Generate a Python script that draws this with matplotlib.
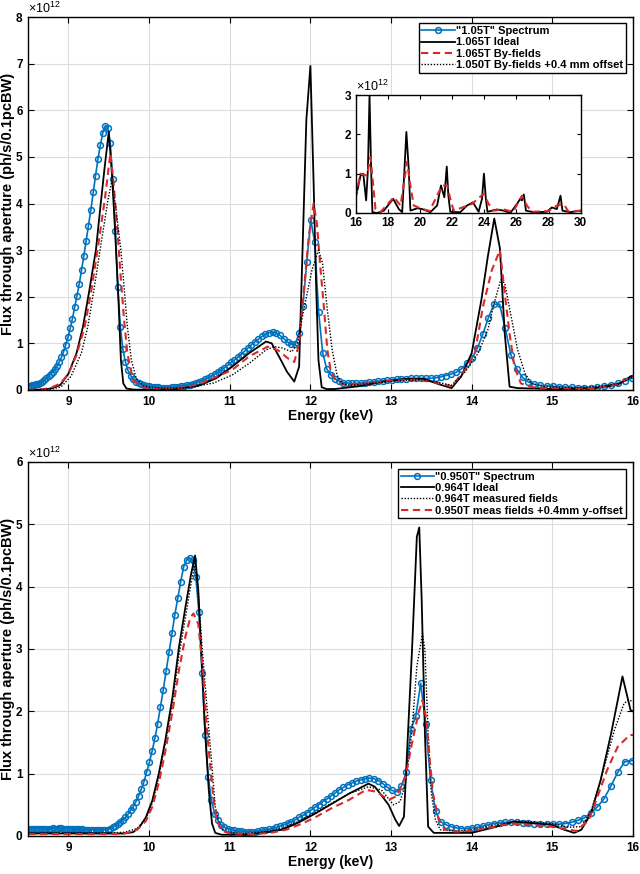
import numpy as np
import matplotlib
matplotlib.use("Agg")
import matplotlib.pyplot as plt

plt.rcParams["font.family"] = ["Liberation Sans", "DejaVu Sans"]
plt.rcParams["font.weight"] = "bold"
plt.rcParams["mathtext.default"] = "regular"

# measured spectra (flux in units of 1e12), scan grid shared by both panels
e_meas = [8.500, 8.525, 8.550, 8.574, 8.599, 8.625, 8.650, 8.676, 8.701, 8.727,
          8.753, 8.779, 8.805, 8.832, 8.858, 8.885, 8.912, 8.939, 8.966, 8.994,
          9.021, 9.049, 9.077, 9.105, 9.134, 9.162, 9.191, 9.219, 9.248, 9.278,
          9.307, 9.336, 9.366, 9.396, 9.426, 9.457, 9.487, 9.518, 9.549, 9.580,
          9.611, 9.643, 9.674, 9.706, 9.738, 9.771, 9.803, 9.836, 9.869, 9.902,
          9.936, 9.969, 10.003, 10.037, 10.072, 10.106, 10.141, 10.176, 10.212, 10.247,
          10.283, 10.319, 10.356, 10.392, 10.429, 10.466, 10.504, 10.541, 10.579, 10.617,
          10.656, 10.694, 10.733, 10.773, 10.812, 10.852, 10.892, 10.933, 10.974, 11.015,
          11.056, 11.098, 11.140, 11.182, 11.225, 11.268, 11.311, 11.355, 11.399, 11.443,
          11.488, 11.533, 11.579, 11.624, 11.670, 11.717, 11.764, 11.811, 11.859, 11.907,
          11.955, 12.004, 12.053, 12.102, 12.153, 12.203, 12.254, 12.305, 12.357, 12.409,
          12.462, 12.515, 12.568, 12.622, 12.676, 12.731, 12.787, 12.842, 12.899, 12.956,
          13.013, 13.071, 13.129, 13.188, 13.247, 13.307, 13.368, 13.429, 13.490, 13.552,
          13.615, 13.679, 13.743, 13.807, 13.872, 13.938, 14.004, 14.071, 14.139, 14.207,
          14.276, 14.346, 14.416, 14.487, 14.559, 14.631, 14.704, 14.778, 14.853, 14.928,
          15.004, 15.081, 15.159, 15.238, 15.317, 15.397, 15.478, 15.560, 15.643, 15.726,
          15.811, 15.897, 15.983, 16.070]

flux_105 = [0.09, 0.09, 0.10, 0.11, 0.12, 0.13, 0.15, 0.18, 0.21, 0.25,
            0.29, 0.34, 0.39, 0.45, 0.52, 0.60, 0.70, 0.82, 0.97, 1.13,
            1.32, 1.53, 1.77, 2.02, 2.28, 2.57, 2.88, 3.20, 3.52, 3.87,
            4.24, 4.60, 4.96, 5.26, 5.52, 5.67, 5.63, 5.30, 4.52, 3.40,
            2.20, 1.36, 0.88, 0.60, 0.42, 0.31, 0.23, 0.18, 0.14, 0.12,
            0.10, 0.09, 0.08, 0.07, 0.06, 0.06, 0.05, 0.05, 0.05, 0.05,
            0.06, 0.06, 0.07, 0.08, 0.09, 0.10, 0.11, 0.13, 0.15, 0.18,
            0.20, 0.23, 0.26, 0.30, 0.34, 0.38, 0.43, 0.48, 0.53, 0.59,
            0.64, 0.70, 0.76, 0.83, 0.90, 0.97, 1.03, 1.09, 1.15, 1.20,
            1.23, 1.24, 1.22, 1.17, 1.10, 1.03, 0.98, 0.98, 1.22, 1.80,
            2.74, 3.65, 3.17, 1.67, 0.79, 0.45, 0.32, 0.24, 0.19, 0.16,
            0.15, 0.14, 0.14, 0.15, 0.16, 0.17, 0.18, 0.19, 0.20, 0.21,
            0.22, 0.23, 0.24, 0.24, 0.25, 0.25, 0.25, 0.25, 0.25, 0.26,
            0.28, 0.31, 0.34, 0.38, 0.45, 0.57, 0.68, 0.90, 1.20, 1.55,
            1.84, 1.84, 1.32, 0.75, 0.45, 0.27, 0.17, 0.12, 0.10, 0.09,
            0.08, 0.07, 0.06, 0.06, 0.05, 0.05, 0.05, 0.06, 0.08, 0.11,
            0.14, 0.19, 0.25, 0.30]

flux_095 = [0.12, 0.12, 0.12, 0.11, 0.12, 0.12, 0.12, 0.11, 0.12, 0.12,
            0.12, 0.12, 0.13, 0.12, 0.12, 0.13, 0.13, 0.12, 0.12, 0.12,
            0.12, 0.12, 0.11, 0.11, 0.11, 0.11, 0.10, 0.10, 0.10, 0.10,
            0.10, 0.10, 0.09, 0.09, 0.10, 0.10, 0.10, 0.12, 0.14, 0.16,
            0.19, 0.22, 0.26, 0.30, 0.35, 0.41, 0.47, 0.55, 0.64, 0.75,
            0.87, 1.02, 1.18, 1.36, 1.57, 1.80, 2.07, 2.35, 2.65, 2.95,
            3.25, 3.55, 3.82, 4.08, 4.32, 4.43, 4.46, 4.42, 4.15, 3.60,
            2.62, 1.62, 0.95, 0.57, 0.36, 0.25, 0.18, 0.14, 0.12, 0.10,
            0.09, 0.08, 0.08, 0.07, 0.07, 0.07, 0.07, 0.08, 0.09, 0.10,
            0.11, 0.12, 0.14, 0.16, 0.18, 0.21, 0.23, 0.26, 0.30, 0.33,
            0.37, 0.41, 0.46, 0.50, 0.55, 0.59, 0.64, 0.69, 0.74, 0.78,
            0.82, 0.85, 0.88, 0.90, 0.92, 0.93, 0.92, 0.89, 0.84, 0.78,
            0.73, 0.71, 0.80, 1.02, 1.72, 1.92, 2.45, 1.80, 0.90, 0.40,
            0.23, 0.18, 0.15, 0.13, 0.12, 0.12, 0.13, 0.14, 0.16, 0.18,
            0.20, 0.21, 0.22, 0.23, 0.22, 0.21, 0.21, 0.20, 0.19, 0.19,
            0.19, 0.19, 0.20, 0.22, 0.25, 0.29, 0.37, 0.47, 0.60, 0.80,
            1.02, 1.19, 1.21, 1.21]

# simulations, top panel
e_ideal_1065 = [8.5, 8.7, 8.8, 8.9, 9.0, 9.1, 9.18, 9.26, 9.34, 9.4, 9.45, 9.5, 9.54,
                9.58, 9.62, 9.65, 9.68, 9.72, 9.8, 10.0, 10.3, 10.62, 10.83, 11.03,
                11.24, 11.45, 11.52, 11.61, 11.71, 11.8, 11.86, 11.95, 12.0, 12.04,
                12.07, 12.1, 12.14, 12.2, 12.3, 12.6, 12.9, 13.2, 13.4, 13.6, 13.75,
                13.87, 14.0, 14.12, 14.2, 14.28, 14.35, 14.41, 14.47, 14.57, 15.0,
                15.5, 15.81, 15.97, 16.0]
f_ideal_1065 = [0.0, 0.01, 0.04, 0.11, 0.35, 0.79, 1.36, 2.15, 3.0, 4.0, 4.8, 5.54, 4.6,
                3.36, 1.93, 0.64, 0.14, 0.03, 0.01, 0.0, 0.01, 0.1, 0.25, 0.5,
                0.79, 1.04, 1.0, 0.72, 0.39, 0.18, 0.5, 5.8, 6.95, 4.43,
                2.3, 0.64, 0.06, 0.02, 0.02, 0.08, 0.18, 0.24, 0.24, 0.12, 0.04,
                0.29, 0.79, 1.93, 2.86, 3.68, 3.04, 1.21, 0.07, 0.04, 0.02,
                0.03, 0.11, 0.29, 0.3]

e_byf_1065 = [8.5, 8.7, 8.8, 8.9, 9.0, 9.1, 9.2, 9.28, 9.36, 9.45, 9.52, 9.56, 9.61,
              9.65, 9.69, 9.73, 9.8, 9.9, 10.0, 10.2, 10.4, 10.62, 11.03, 11.24, 11.47,
              11.6, 11.72, 11.8, 11.86, 11.92, 11.98, 12.04, 12.08, 12.12, 12.17,
              12.21, 12.25, 12.31, 12.4, 12.7, 13.0, 13.3, 13.5, 13.75, 13.92, 14.04,
              14.14, 14.25, 14.35, 14.41, 14.47, 14.53, 14.61, 14.78, 15.0, 15.5,
              15.8, 16.0]
f_byf_1065 = [0.0, 0.02, 0.06, 0.14, 0.35, 0.75, 1.35, 2.1, 3.0, 4.08, 5.08, 4.43, 3.36,
              2.36, 1.5, 0.79, 0.21, 0.07, 0.04, 0.03, 0.05, 0.12, 0.43, 0.72, 0.93,
              0.85, 0.68, 0.6, 1.0, 2.15, 3.3, 4.0, 3.58, 2.7, 1.72,
              0.86, 0.43, 0.21, 0.12, 0.14, 0.2, 0.22, 0.18, 0.08, 0.43, 0.79,
              1.79, 2.57, 3.0, 2.07, 1.21, 0.5, 0.14, 0.05, 0.04, 0.04,
              0.12, 0.3]

e_off_1050 = [8.5, 8.8, 8.91, 9.03, 9.16, 9.24, 9.32, 9.405, 9.49, 9.54, 9.59, 9.65,
              9.69, 9.73, 9.78, 9.84, 9.92, 10.0, 10.2, 10.5, 10.8, 11.03, 11.24, 11.45,
              11.55, 11.65, 11.77, 11.84, 11.9, 12.02, 12.1, 12.15, 12.21, 12.27,
              12.33, 12.39, 12.5, 12.8, 13.1, 13.4, 13.6, 13.75, 13.92, 14.08, 14.2,
              14.29, 14.36, 14.41, 14.49, 14.57, 14.66, 14.74, 14.9, 15.3, 15.6,
              15.85, 16.0]
f_off_1050 = [0.0, 0.02, 0.07, 0.29, 0.79, 1.36, 2.2, 3.15, 4.08, 4.5, 3.86, 3.0,
              2.2, 1.36, 0.64, 0.25, 0.1, 0.06, 0.04, 0.05, 0.15, 0.32, 0.57, 0.86,
              0.93, 0.9, 0.82, 1.0, 1.57, 2.58, 3.0, 2.72, 1.72, 0.86,
              0.32, 0.14, 0.1, 0.15, 0.2, 0.22, 0.16, 0.1, 0.39, 0.79, 1.29,
              1.93, 2.36, 2.29, 1.57, 0.86, 0.36, 0.14, 0.07, 0.05, 0.08,
              0.15, 0.28]

# inset, harmonics 16-30 keV
e_inset_ideal = [16.0, 16.31, 16.48, 16.66, 16.77, 16.87, 16.97, 17.05, 17.34, 17.76,
                 18.34, 18.69, 18.9, 19.04, 19.16, 19.31, 19.41, 19.83, 20.14, 20.65,
                 21.07, 21.31, 21.52, 21.67, 21.77, 21.89, 22.51, 22.93, 23.3, 23.65,
                 23.86, 23.98, 24.1, 24.2, 24.79, 25.2, 25.62, 26.03, 26.24, 26.34,
                 26.46, 26.59, 27.06, 27.89, 28.2, 28.51, 28.74, 28.86, 29.34, 30.0]
f_inset_ideal = [0.36, 0.95, 1.0, 0.32, 1.1, 3.0, 1.1, 0.02, 0.0, 0.06,
                 0.36, 0.1, 0.02, 1.1, 2.06, 1.1, 0.06, 0.12, 0.1, 0.02,
                 0.19, 0.7, 0.4, 1.18, 0.44, 0.03, 0.02, 0.19, 0.27, 0.03,
                 0.36, 1.0, 0.36, 0.03, 0.09, 0.06, 0.0, 0.23, 0.36, 0.32,
                 0.47, 0.06, 0.02, 0.03, 0.14, 0.1, 0.44, 0.06, 0.02, 0.06]
e_inset_byf = [16.0, 16.31, 16.72, 16.93, 17.1, 17.24, 17.55, 18.38, 18.8, 19.2,
               19.41, 19.62, 20.03, 20.6, 21.38, 21.69, 21.89, 22.1, 23.24, 23.96,
               24.27, 24.58, 25.2, 25.8, 26.34, 26.65, 26.96, 28.0, 28.51, 28.93,
               29.24, 30.0]
f_inset_byf = [0.4, 1.0, 0.95, 1.42, 0.7, 0.1, 0.02, 0.4, 0.19, 1.3,
               0.7, 0.19, 0.12, 0.05, 0.7, 0.7, 0.36, 0.06, 0.23, 0.49,
               0.23, 0.06, 0.09, 0.03, 0.44, 0.19, 0.03, 0.05, 0.19, 0.23,
               0.03, 0.06]

# simulations, bottom panel
e_ideal_0964 = [8.5, 9.0, 9.5, 9.67, 9.8, 9.88, 9.96, 10.04, 10.12, 10.2, 10.29, 10.37,
                10.45, 10.52, 10.57, 10.61, 10.65, 10.69, 10.74, 10.78, 10.82, 10.9,
                11.2, 11.45, 11.65, 11.86, 12.06, 12.27, 12.48, 12.72, 12.8, 12.97,
                13.05, 13.1, 13.16, 13.26, 13.32, 13.35, 13.38, 13.42, 13.46, 13.53,
                14.0, 14.25, 14.53, 14.99, 15.15, 15.27, 15.36, 15.48, 15.6, 15.73,
                15.87, 15.97, 16.0]
f_ideal_0964 = [0.04, 0.04, 0.04, 0.04, 0.06, 0.14, 0.3, 0.57, 1.0, 1.53, 2.23, 3.03,
                3.67, 4.2, 4.5, 3.94, 2.87, 1.8, 0.73, 0.2, 0.05, 0.02,
                0.02, 0.06, 0.1, 0.22, 0.36, 0.52, 0.68, 0.84, 0.79, 0.5,
                0.27, 0.16, 0.31, 2.98, 4.8, 4.95, 3.79, 1.65, 0.15, 0.05,
                0.05, 0.13, 0.23, 0.18, 0.1, 0.05, 0.1, 0.36, 0.9, 1.65,
                2.56, 2.02, 2.0]

e_meas_0964 = [8.5, 9.5, 9.7, 9.85, 9.96, 10.04, 10.12, 10.2, 10.29, 10.37, 10.45,
               10.52, 10.57, 10.61, 10.65, 10.71, 10.78, 10.82, 10.88, 10.95, 11.2,
               11.45, 11.65, 11.86, 12.06, 12.27, 12.48, 12.72, 12.88, 13.03, 13.11,
               13.18, 13.26, 13.32, 13.39, 13.42, 13.46, 13.5, 13.55, 13.61, 13.8,
               14.0, 14.3, 14.6, 15.0, 15.2, 15.36, 15.48, 15.6, 15.77, 15.89,
               15.96, 16.0]
f_meas_0964 = [0.05, 0.05, 0.06, 0.12, 0.28, 0.53, 0.95, 1.48, 2.15, 2.9, 3.5,
               4.05, 4.37, 3.9, 3.14, 2.18, 1.1, 0.47, 0.14, 0.06, 0.04,
               0.07, 0.12, 0.24, 0.38, 0.53, 0.68, 0.79, 0.74, 0.5, 0.55,
               0.84, 1.7, 2.72, 3.25, 2.98, 1.65, 0.68, 0.26, 0.1, 0.08,
               0.1, 0.18, 0.24, 0.2, 0.14, 0.15, 0.4, 0.9, 1.7, 2.13,
               2.18, 2.15]

e_off_0950 = [8.5, 9.5, 9.7, 9.85, 9.96, 10.04, 10.12, 10.2, 10.29, 10.37, 10.45,
              10.51, 10.55, 10.61, 10.67, 10.71, 10.76, 10.8, 10.84, 10.9, 11.0,
              11.3, 11.5, 11.7, 11.9, 12.06, 12.27, 12.48, 12.69, 12.82, 12.97,
              13.07, 13.18, 13.26, 13.34, 13.39, 13.44, 13.48, 13.52, 13.59, 13.67,
              13.8, 14.0, 14.5, 15.0, 15.3, 15.45, 15.56, 15.68, 15.81, 15.96, 16.0]
f_off_0950 = [0.03, 0.03, 0.04, 0.1, 0.24, 0.47, 0.85, 1.35, 2.0, 2.66, 3.2,
              3.5, 3.57, 3.4, 2.6, 1.8, 1.1, 0.57, 0.25, 0.09, 0.04,
              0.03, 0.05, 0.1, 0.2, 0.3, 0.45, 0.58, 0.74, 0.71, 0.58,
              0.64, 0.95, 1.49, 1.97, 2.18, 1.86, 1.22, 0.68, 0.26, 0.1,
              0.07, 0.08, 0.2, 0.15, 0.08, 0.25, 0.63, 1.06, 1.43, 1.62, 1.62]

BLUE = "#0072BD"
RED = "#D92A2A"
fs_tick = 8.5
fs_lab = 10.5
fs_leg = 8


def style_axes(ax, xlim, ylim, xticks, yticks, grid=True):
    ax.set_xlim(*xlim)
    ax.set_ylim(*ylim)
    ax.set_xticks(xticks)
    ax.set_yticks(yticks)
    ax.tick_params(direction="in", top=True, right=True, length=4, width=0.8,
                   labelsize=fs_tick, pad=4)
    for lab in ax.get_xticklabels() + ax.get_yticklabels():
        lab.set_fontweight("bold")
    for s in ax.spines.values():
        s.set_linewidth(1.0)
    if grid:
        ax.grid(True, color="#dcdcdc", linewidth=0.8)
        ax.set_axisbelow(True)


def plot_meas(ax, y, label):
    ax.plot(e_meas, y, color=BLUE, lw=1.2, marker="o", ms=4.2, mfc="none",
            mew=1.1, label=label)


def finish_panel(ax, anchor):
    ax.set_xlabel("Energy (keV)", fontsize=10, fontweight="bold", labelpad=1)
    ax.set_ylabel("Flux through aperture (ph/s/0.1pcBW)", fontsize=fs_lab,
                  fontweight="bold")
    ax.yaxis.set_label_coords(-0.0215, 0.5)
    ax.text(0.0, 1.004, r"$\times10^{12}$", transform=ax.transAxes, fontsize=9,
            fontweight="normal", va="bottom", ha="left")
    leg = ax.legend(loc="upper right", bbox_to_anchor=anchor, fontsize=fs_leg,
                    frameon=True, fancybox=False, framealpha=1, edgecolor="black",
                    handlelength=3.0, handletextpad=0.1, borderpad=0.25,
                    labelspacing=0.12, borderaxespad=0)
    leg.get_frame().set_linewidth(1.0)
    for t in leg.get_texts():
        t.set_fontweight("bold")


fig = plt.figure(figsize=(6.4, 8.74), dpi=100)

# ---------- top panel ----------
ax1 = fig.add_axes([0.044, 0.5538, 0.945, 0.4267])
plot_meas(ax1, flux_105, '"1.05T" Spectrum')
ax1.plot(e_ideal_1065, f_ideal_1065, color="black", lw=1.3, label="1.065T Ideal")
ax1.plot(e_byf_1065, f_byf_1065, color=RED, lw=1.5, ls=(0, (3.5, 2.2)),
         label="1.065T By-fields")
ax1.plot(e_off_1050, f_off_1050, color="black", lw=1.0, ls=(0, (1, 1.2)),
         label="1.050T By-fields +0.4 mm offset")
style_axes(ax1, (8.5, 16), (0, 8), range(9, 17), range(0, 9))
finish_panel(ax1, (0.988, 0.983))

# inset
axi = fig.add_axes([0.5555, 0.7563, 0.352, 0.135])
axi.plot(e_inset_ideal, f_inset_ideal, color="black", lw=1.3)
axi.plot(e_inset_byf, f_inset_byf, color=RED, lw=1.5, ls=(0, (3.5, 2.2)))
style_axes(axi, (16, 30), (0, 3), range(16, 31, 2), range(0, 4), grid=False)
axi.tick_params(length=3, pad=3, labelsize=8.5)
axi.text(0.0, 1.01, r"$\times10^{12}$", transform=axi.transAxes, fontsize=9,
         fontweight="normal", va="bottom", ha="left")

# ---------- bottom panel ----------
ax2 = fig.add_axes([0.044, 0.0435, 0.945, 0.4279])
plot_meas(ax2, flux_095, '"0.950T" Spectrum')
ax2.plot(e_ideal_0964, f_ideal_0964, color="black", lw=1.3, label="0.964T Ideal")
ax2.plot(e_meas_0964, f_meas_0964, color="black", lw=1.0, ls=(0, (1, 1.2)),
         label="0.964T measured fields")
ax2.plot(e_off_0950, f_off_0950, color=RED, lw=1.5, ls=(0, (3.5, 2.2)),
         label="0.950T meas fields +0.4mm y-offset")
style_axes(ax2, (8.5, 16), (0, 6), range(9, 17), range(0, 7))
finish_panel(ax2, (0.988, 0.982))

fig.savefig("out.png", dpi=100)
